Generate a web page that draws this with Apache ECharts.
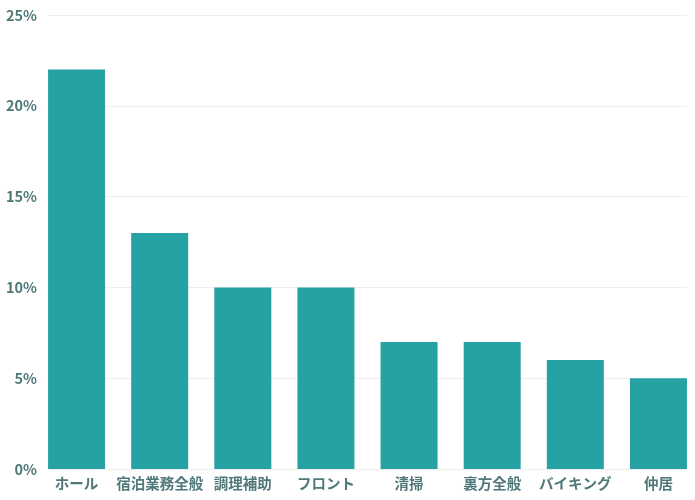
<!DOCTYPE html>
<html lang="ja">
<head>
    <meta charset="UTF-8">
    <title>職種別割合</title>
    <script type="text/javascript" src="https://cdn.jsdelivr.net/npm/echarts@6/dist/echarts.min.js"></script>
    <style>
        html, body { margin: 0; padding: 0; background: #fff; }
        #main { width: 695px; height: 500px; }
    </style>
</head>
<body>
<div id="main"></div>
<script type="text/javascript">
    // 職種と割合(%)
    var categories = ['ホール', '宿泊業務全般', '調理補助', 'フロント', '清掃', '裏方全般', 'バイキング', '仲居'];
    var values = [22, 13, 10, 10, 7, 7, 6, 5];
    var yTicks = [0, 5, 10, 15, 20, 25];

    var textColor = '#507878';
    var font = '"Noto Sans CJK JP", "Noto Sans", sans-serif';

    var myChart = echarts.init(document.getElementById('main'));
    var option = {
        animation: false,
        grid: [
            // 棒グラフ用（左右に半分の隙間をとる）
            { left: 35, right: -5, top: 15, bottom: 31, outerBoundsMode: 'none' },
            // 目盛線・ラベル用
            { left: 48, right: 8, top: 15, bottom: 31, outerBoundsMode: 'none' }
        ],
        xAxis: [
            {
                type: 'category',
                gridIndex: 0,
                data: categories,
                axisLine: { show: false },
                axisTick: { show: false },
                axisLabel: {
                    margin: 7,
                    color: textColor,
                    fontFamily: font,
                    fontWeight: 'bold',
                    fontSize: 14.5,
                    interval: 0
                }
            },
            {
                type: 'value',
                gridIndex: 1,
                show: false
            }
        ],
        yAxis: [
            {
                type: 'value',
                gridIndex: 0,
                min: yTicks[0],
                max: yTicks[yTicks.length - 1],
                interval: 5,
                show: false
            },
            {
                type: 'value',
                gridIndex: 1,
                min: yTicks[0],
                max: yTicks[yTicks.length - 1],
                interval: 5,
                axisLine: { show: false },
                axisTick: { show: false },
                splitLine: { lineStyle: { color: '#eeeeee', width: 1 } },
                axisLabel: {
                    margin: 11,
                    color: textColor,
                    fontFamily: font,
                    fontWeight: 'bold',
                    fontSize: 14.5,
                    formatter: '{value}%'
                }
            }
        ],
        series: [
            {
                type: 'bar',
                xAxisIndex: 0,
                yAxisIndex: 0,
                data: values,
                barWidth: 57,
                itemStyle: { color: '#26a1a4' },
                z: 3
            }
        ]
    };
    myChart.setOption(option);
</script>
</body>
</html>
